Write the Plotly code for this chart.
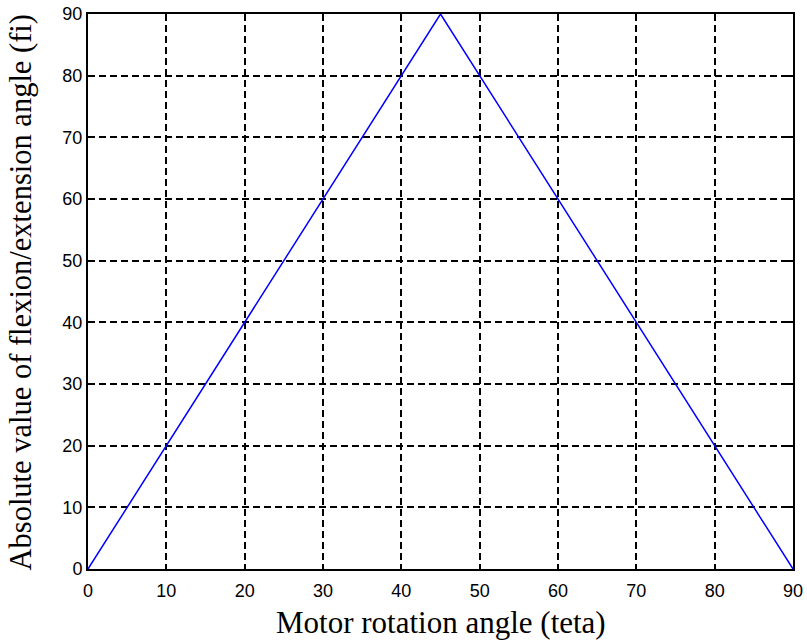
import plotly.graph_objects as go

teta = [0, 45, 90]
fi = [0, 90, 0]
x_ticks = [0, 10, 20, 30, 40, 50, 60, 70, 80, 90]
y_ticks = [0, 10, 20, 30, 40, 50, 60, 70, 80, 90]
x_title = "Motor rotation angle (teta)"
y_title = "Absolute value of flexion/extension angle (fi)"

fig = go.Figure()
fig.add_trace(go.Scatter(x=teta, y=fi, mode="lines",
                         line=dict(color="#0000ff", width=1.5), showlegend=False))

axis_common = dict(
    showline=True, linecolor="black", linewidth=2, mirror="ticks",
    ticks="inside", ticklen=5, tickcolor="black", tickwidth=1.5,
    showgrid=True, gridcolor="black", griddash="7px,4px", gridwidth=1.6,
    zeroline=False, automargin=False, ticklabeloverflow="allow",
    tickfont=dict(family="Liberation Sans, Arial", size=18, color="black"),
)

fig.update_xaxes(range=[0, 90], tickvals=x_ticks, ticklabelstandoff=4, **axis_common)
fig.update_yaxes(range=[0, 90], tickvals=y_ticks, **axis_common)

fig.add_annotation(text=x_title, xref="paper", yref="paper", x=0.5, y=0,
                   xanchor="center", yanchor="middle", yshift=-53, showarrow=False,
                   font=dict(family="Liberation Serif, Times New Roman", size=31, color="black"))
fig.add_annotation(text=y_title, xref="paper", yref="paper", x=0, y=0.5,
                   xanchor="center", yanchor="middle", xshift=-68, yshift=-1,
                   textangle=-90, showarrow=False,
                   font=dict(family="Liberation Serif, Times New Roman", size=30.5, color="black"))

fig.update_layout(
    width=807, height=642,
    margin=dict(l=88, r=14, t=14, b=73),
    plot_bgcolor="white", paper_bgcolor="white",
)

fig.write_html("out.html", config={"displayModeBar": False},
               post_script="document.body.style.margin='0';document.body.style.overflow='hidden';")
